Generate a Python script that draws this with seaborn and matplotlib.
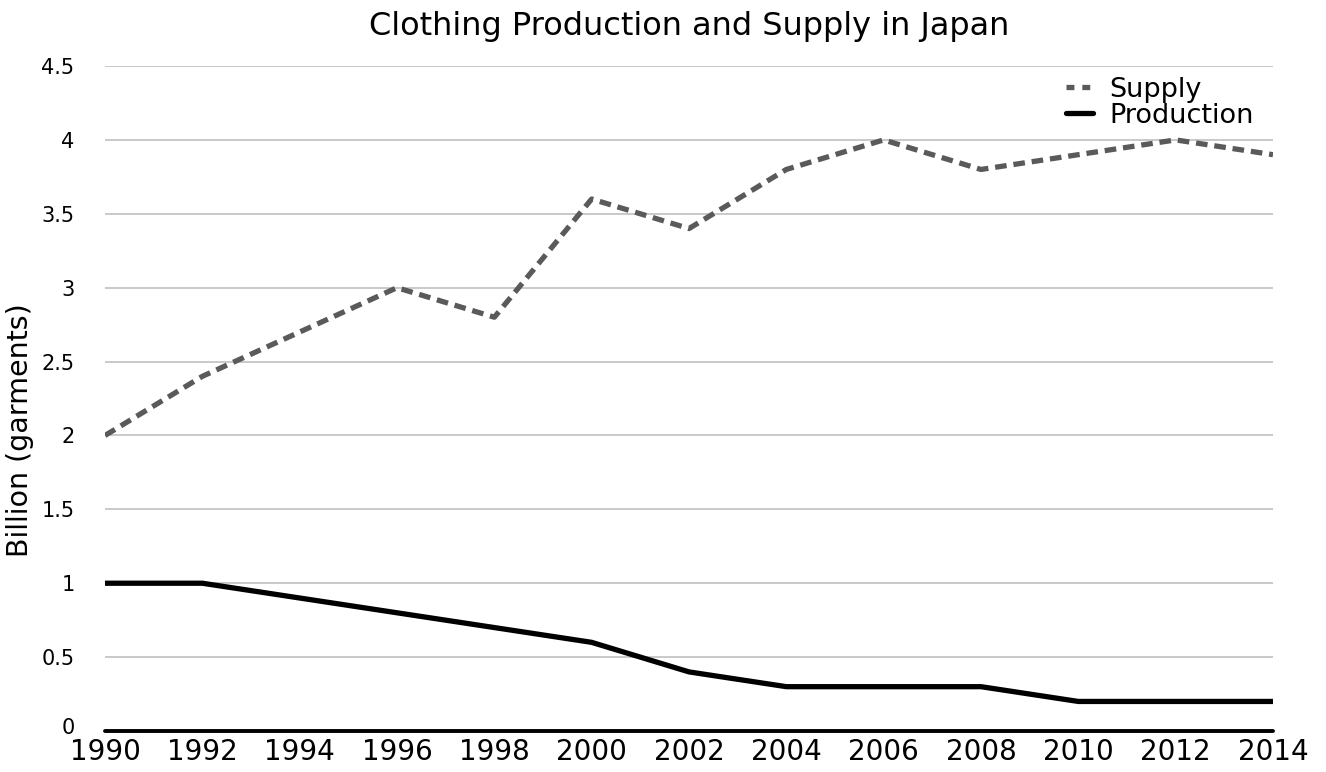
import pandas as pd
import matplotlib.pyplot as plt
import matplotlib.transforms as mtransforms
from matplotlib.lines import Line2D
import seaborn as sns

# data
years = [1990, 1992, 1994, 1996, 1998, 2000, 2002, 2004, 2006, 2008, 2010, 2012, 2014]
supply = [2.0, 2.4, 2.7, 3.0, 2.8, 3.6, 3.4, 3.8, 4.0, 3.8, 3.9, 4.0, 3.9]
production = [1.0, 1.0, 0.9, 0.8, 0.7, 0.6, 0.4, 0.3, 0.3, 0.3, 0.2, 0.2, 0.2]
y_ticks = [0, 0.5, 1, 1.5, 2, 2.5, 3, 3.5, 4, 4.5]
y_tick_labels = ['0', '0.5', '1', '1.5', '2', '2.5', '3', '3.5', '4', '4.5']

df = pd.DataFrame({
    'Year': years * 2,
    'Value': supply + production,
    'Series': ['Supply'] * len(years) + ['Production'] * len(years),
})

sns.set_style('white')
plt.rcParams['font.family'] = ['DejaVu Sans']
plt.rcParams['text.color'] = 'black'
plt.rcParams['axes.labelcolor'] = 'black'
plt.rcParams['xtick.color'] = 'black'
plt.rcParams['ytick.color'] = 'black'

fig = plt.figure(figsize=(13.26, 7.72), dpi=100)
ax = fig.add_axes([0.0792, 0.0531, 0.8808, 0.8614])

# horizontal gridlines + black baseline
for y in y_ticks[1:]:
    ax.axhline(y, color='#c0c0c0', lw=1.2, zorder=0)
ax.axhline(0, color='black', lw=2.8, zorder=1, clip_on=False)

sns.lineplot(data=df, x='Year', y='Value', hue='Series', style='Series',
             palette={'Supply': '#5a5a5a', 'Production': '#000000'},
             dashes={'Supply': (2.2, 1.3), 'Production': ''},
             linewidth=3.8, ax=ax, legend=False, zorder=3)

ax.set_xlim(1990, 2014)
ax.set_ylim(0, 4.5)
ax.set_xticks(years)
ax.set_xticklabels([str(y) for y in years], fontsize=20)
ax.set_yticks(y_ticks)
ax.set_yticklabels(y_tick_labels, fontsize=15)
ax.tick_params(axis='x', length=0, pad=5)
ax.tick_params(axis='y', length=0, pad=22)
for s in ax.spines.values():
    s.set_visible(False)

# nudge the "0" label up so it clears the year labels
zero_lbl = ax.get_yticklabels()[0]
zero_lbl.set_transform(zero_lbl.get_transform() +
                       mtransforms.ScaledTranslation(0, 5 / 100, fig.dpi_scale_trans))

ax.set_xlabel('')
ax.set_ylabel('Billion (garments)', fontsize=20.5)
ax.yaxis.set_label_coords(-0.061, 0.453)
ax.set_title('Clothing Production and Supply in Japan', fontsize=23, pad=22)

handles = [Line2D([], [], color='#5a5a5a', lw=3.8, dashes=(1.5, 1.5)),
           Line2D([], [], color='black', lw=3.8)]
ax.legend(handles, ['Supply', 'Production'], loc='upper right',
          bbox_to_anchor=(0.993, 1.0), frameon=False, fontsize=19.5,
          handlelength=1.0, handletextpad=0.6, labelspacing=0.0,
          borderaxespad=0.0)

fig.savefig('out.png', dpi=100)
